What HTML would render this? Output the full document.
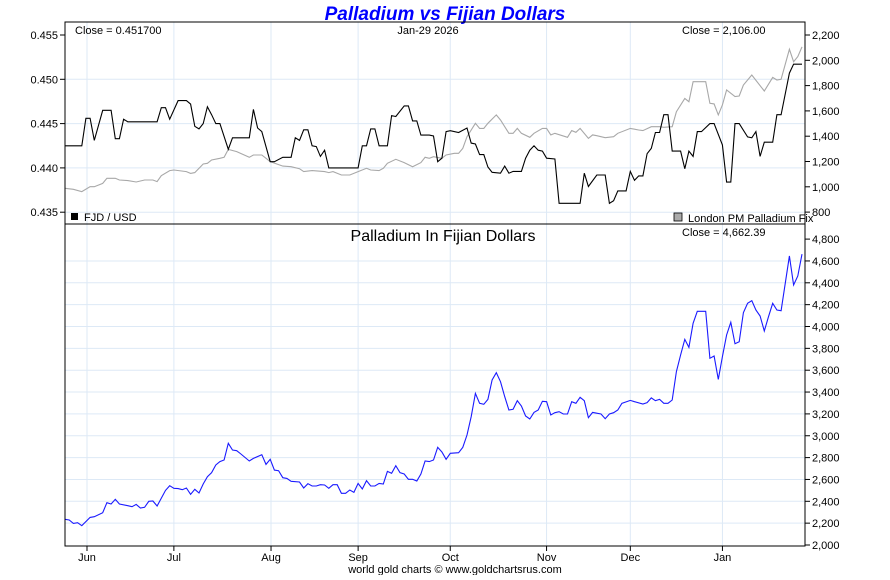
<!DOCTYPE html>
<html><head><meta charset="utf-8">
<style>
body{margin:0;background:#fff;font-family:"Liberation Sans",Arial,sans-serif;}
svg text{font-family:"Liberation Sans",Arial,sans-serif;}
</style></head>
<body>
<svg id="chart" width="890" height="575" viewBox="0 0 890 575" xmlns="http://www.w3.org/2000/svg">
<rect width="890" height="575" fill="#fff"/>
<text x="445" y="20" text-anchor="middle" font-size="19" font-weight="bold" font-style="italic" fill="#0000ff">Palladium vs Fijian Dollars</text>
<g id="grid"></g>
<g id="series"></g>
<rect x="65" y="22" width="740" height="202" fill="none" stroke="#000" stroke-width="1"/>
<rect x="65" y="224" width="740" height="322" fill="none" stroke="#000" stroke-width="1"/>
<g id="axes"></g>
<text x="75" y="34" font-size="11">Close = 0.451700</text>
<text x="428" y="34" font-size="11" text-anchor="middle">Jan-29  2026</text>
<text x="682" y="34" font-size="11">Close = 2,106.00</text>
<rect x="71" y="213" width="7" height="7" fill="#000"/>
<text x="84" y="221" font-size="11">FJD / USD</text>
<rect x="674" y="213" width="8" height="8" fill="#aaa" stroke="#000" stroke-width="0.8"/>
<text x="688" y="222" font-size="11">London PM Palladium Fix</text>
<text x="443" y="241" font-size="16" text-anchor="middle">Palladium In Fijian Dollars</text>
<text x="682" y="236" font-size="11">Close = 4,662.39</text>
<text x="455" y="573" font-size="11" text-anchor="middle">world gold charts © www.goldchartsrus.com</text>
</svg>
<script>
const months = ["Jun","Jul","Aug","Sep","Oct","Nov","Dec","Jan"];
const monthDays = [5.25,26,49.2,70,92,115,135,157];
const leftTicks = [0.455,0.450,0.445,0.440,0.435];
const rightTopTicks = [2200,2000,1800,1600,1400,1200,1000,800];
const bottomTicks = [4800,4600,4400,4200,4000,3800,3600,3400,3200,3000,2800,2600,2400,2200,2000];
const fjdDays = [0,4,5,6,7,9,11,12,13,14,15,22,23,24,25,27,29,30,31,32,33,34,35,36,37,39,40,44,45,46,47,49,50,52,54,55,56,57,58,59,60,61,62,63,70,71,72,73,74,75,77,78,79,81,82,83,84,85,87,88,89,90,91,92,94,96,97,98,99,100,101,102,104,105,106,107,109,110,111,112,113,114,115,117,118,123,124,125,127,129,130,131,132,134,135,136,137,138,139,140,141,142,143,144,145,147,148,149,150,151,152,154,155,157,158,159,160,161,163,164,165,166,167,169,170,171,173,174,176];
const fjdValues = [0.4425,0.4425,0.4456,0.4456,0.4431,0.4465,0.4465,0.4433,0.4433,0.4455,0.4452,0.4452,0.4468,0.4468,0.4455,0.4476,0.4476,0.4472,0.4447,0.4444,0.4450,0.4469,0.4460,0.4450,0.4450,0.4421,0.4434,0.4434,0.4466,0.4445,0.4441,0.4407,0.4407,0.4412,0.4412,0.4434,0.4431,0.4443,0.4443,0.4425,0.4424,0.4413,0.4420,0.4400,0.4400,0.4425,0.4425,0.4444,0.4444,0.4425,0.4425,0.4459,0.4458,0.4470,0.4470,0.4453,0.4453,0.4437,0.4437,0.4436,0.4407,0.4411,0.4441,0.4442,0.4440,0.4445,0.4428,0.4427,0.4415,0.4415,0.4401,0.4395,0.4394,0.4402,0.4394,0.4396,0.4396,0.4411,0.4420,0.4425,0.4420,0.4419,0.4411,0.4410,0.4360,0.4360,0.4394,0.4379,0.4392,0.4392,0.4360,0.4363,0.4374,0.4374,0.4396,0.4386,0.4391,0.4391,0.4416,0.4422,0.4440,0.4440,0.4460,0.4460,0.4419,0.4419,0.4399,0.4419,0.4413,0.4441,0.4441,0.4450,0.4450,0.4426,0.4384,0.4384,0.4450,0.4450,0.4435,0.4434,0.4441,0.4413,0.4429,0.4429,0.4460,0.4460,0.4507,0.4517,0.4517];
const pdDays = [0,2,4,6,7,9,10,12,13,15,17,19,21,22,23,25,26,29,30,31,33,34,35,37,38,39,41,44,45,47,49,52,54,56,57,59,62,63,64,66,68,70,72,73,75,76,77,79,81,83,85,86,87,88,90,91,93,94,95,96,98,99,100,101,103,104,106,107,108,109,111,112,114,115,116,117,120,121,122,123,125,126,127,129,131,132,135,137,138,140,142,143,145,146,148,149,150,153,154,155,156,157,158,160,161,162,164,167,169,170,171,173,174,175,176];
const pdValues = [988,980,962,1001,1001,1027,1067,1067,1054,1049,1038,1054,1054,1041,1088,1128,1133,1120,1106,1112,1180,1186,1212,1225,1233,1296,1278,1233,1251,1251,1199,1164,1159,1143,1120,1128,1120,1112,1120,1093,1093,1120,1146,1133,1128,1146,1186,1217,1191,1159,1191,1233,1225,1238,1225,1251,1265,1265,1304,1396,1502,1462,1462,1502,1568,1528,1423,1423,1462,1423,1391,1423,1462,1462,1410,1423,1391,1444,1431,1462,1383,1410,1404,1388,1396,1423,1462,1449,1444,1475,1475,1470,1475,1594,1699,1673,1831,1831,1660,1655,1568,1647,1765,1713,1718,1805,1884,1757,1865,1844,1850,2087,1989,2029,2106];
const ratioDays = [0,1,2,3,4,6,7,9,10,11,12,13,15,16,17,18,19,20,21,22,24,25,26,27,28,29,30,31,32,33,34,35,36,37,38,39,40,41,42,44,45,47,48,49,50,51,52,53,54,56,57,58,59,60,61,62,63,64,65,66,67,68,69,70,71,72,73,74,75,76,77,78,79,80,81,82,83,84,85,86,87,88,89,90,91,92,94,95,96,97,98,99,100,101,102,103,104,105,106,107,108,109,110,111,112,113,114,115,116,117,118,119,120,121,122,123,124,125,126,128,129,130,131,132,133,135,136,138,139,140,141,142,143,144,145,146,147,148,149,150,151,153,154,155,156,157,158,159,160,161,162,163,164,165,166,167,168,169,170,171,173,174,175,176];
const ratioValues = [2235,2229,2198,2204,2177,2253,2259,2296,2387,2375,2418,2375,2360,2351,2372,2339,2345,2400,2403,2357,2500,2543,2519,2516,2506,2522,2464,2510,2476,2558,2625,2662,2732,2763,2778,2931,2870,2863,2833,2769,2793,2827,2738,2784,2686,2680,2616,2610,2583,2577,2522,2561,2540,2540,2552,2549,2519,2552,2552,2473,2473,2503,2482,2564,2513,2589,2540,2540,2564,2558,2674,2656,2726,2662,2650,2601,2601,2586,2650,2769,2763,2778,2894,2851,2784,2839,2845,2894,3007,3175,3388,3297,3288,3333,3510,3577,3495,3358,3236,3242,3321,3272,3181,3153,3214,3236,3315,3312,3190,3211,3220,3199,3199,3312,3297,3352,3321,3165,3214,3199,3156,3199,3211,3236,3297,3324,3312,3291,3303,3346,3321,3333,3297,3297,3327,3587,3739,3882,3809,4029,4139,4139,3709,3730,3516,3724,3922,4038,3843,3861,4127,4212,4236,4151,4096,3959,4090,4212,4151,4145,4645,4380,4462,4663];

const NS="http://www.w3.org/2000/svg";
const X0=65, X1=805, DMAX=176;
const xs = d => X0 + (d/DMAX)*(802-X0);
const yL = v => 35 + (0.455 - v)/0.005*44.3;
const yR = v => 35 + (2200 - v)/200*25.3;
const yB = v => 545 - (v - 2000)/200*21.85;
function mk(tag, attrs, parent){const e=document.createElementNS(NS,tag);for(const k in attrs)e.setAttribute(k,attrs[k]);parent.appendChild(e);return e;}
const grid=document.getElementById('grid'), axes=document.getElementById('axes'), ser=document.getElementById('series');
const GC="#dde9f6";
months.forEach((m,i)=>{
  const x=xs(monthDays[i]);
  const g1=mk('line',{x1:x,x2:x,y1:22,y2:546,stroke:GC,'stroke-width':1},grid);
  
  
  const t=mk('line',{x1:x,x2:x,y1:546,y2:551,stroke:'#000'},axes);
  
  
  const l=mk('text',{x:x,y:561,'font-size':11,'text-anchor':'middle'},axes);
  l.textContent=m;
  
  
});
leftTicks.forEach(v=>{
  const y=yL(v);
  if(v<0.455){const g=mk('line',{x1:65,x2:805,y1:y,y2:y,stroke:GC},grid);
  
  }
  const t=mk('line',{x1:60,x2:65,y1:y,y2:y,stroke:'#000'},axes);
  
  
  const l=mk('text',{x:58,y:y+4,'font-size':11,'text-anchor':'end'},axes);
  l.textContent=v.toFixed(3);
  
  
});
rightTopTicks.forEach(v=>{
  const y=yR(v);
  const t=mk('line',{x1:805,x2:810,y1:y,y2:y,stroke:'#000'},axes);
  
  
  const l=mk('text',{x:812,y:y+4,'font-size':11},axes);
  l.textContent=v.toLocaleString('en-US');
  
  
});
bottomTicks.forEach(v=>{
  const y=yB(v);
  if(v>2000&&v<4800){const g=mk('line',{x1:65,x2:805,y1:y,y2:y,stroke:GC},grid);
  
  }
  const t=mk('line',{x1:805,x2:810,y1:y,y2:y,stroke:'#000'},axes);
  
  
  const l=mk('text',{x:812,y:y+4,'font-size':11},axes);
  l.textContent=v.toLocaleString('en-US');
  
  
});
function line(days,vals,yf,color,w){
  return days.map((d,i)=>(i?'L':'M')+xs(d).toFixed(1)+','+yf(vals[i]).toFixed(1)).join('');
}
const pp=mk('path',{d:line(pdDays,pdValues,yR),fill:'none',stroke:'#a8a8a8','stroke-width':1.1},ser);


const fp=mk('path',{d:line(fjdDays,fjdValues,yL),fill:'none',stroke:'#000','stroke-width':1.1},ser);


const rp=mk('path',{d:line(ratioDays,ratioValues,yB),fill:'none',stroke:'#1a1aff','stroke-width':1.1},ser);


</script>
</body></html>
